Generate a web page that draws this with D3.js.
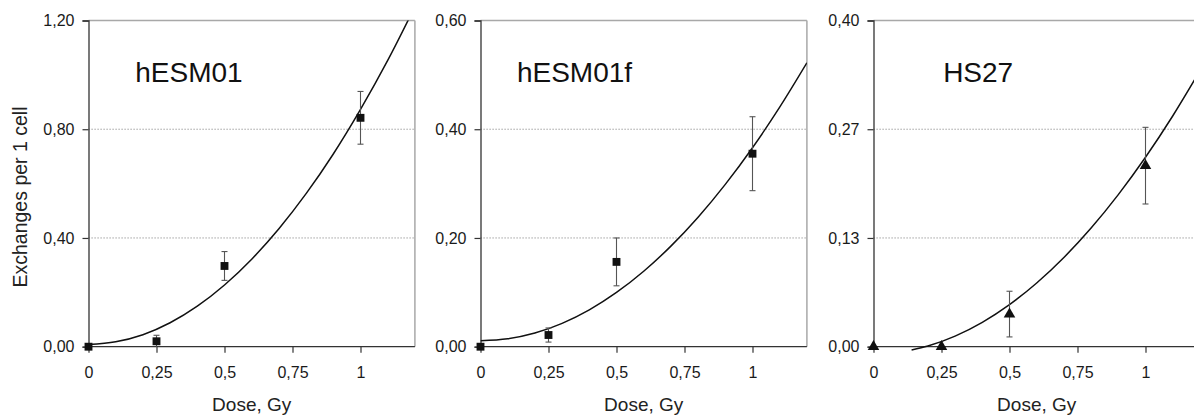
<!DOCTYPE html>
<html>
<head>
<meta charset="utf-8">
<script src="https://cdn.jsdelivr.net/npm/d3@7"></script>
<style>
  html, body { margin: 0; padding: 0; background: #fff; }
  svg { display: block; }
  text { font-family: "Liberation Sans", Arial, Helvetica, sans-serif; }
</style>
</head>
<body>
<script>
// ---------- DATA ----------
const doses = [0, 0.25, 0.5, 1];

const hESM01Values = [0.00, 0.02, 0.297, 0.842];
const hESM01Errors = [0, 0.022, 0.053, 0.097];

const hESM01fValues = [0.00, 0.0215, 0.156, 0.355];
const hESM01fErrors = [0, 0.013, 0.044, 0.068];

const HS27Values = [0.00, 0.00, 0.040, 0.222];
const HS27Errors = [0, 0, 0.028, 0.047];

// fitted curves
const fitDoses = [0, 0.1, 0.2, 0.3, 0.4, 0.5, 0.6, 0.7, 0.8, 0.9, 1.0, 1.1, 1.2];
const hESM01Fit = [0.008, 0.018, 0.044, 0.088, 0.149, 0.227, 0.322, 0.434, 0.563, 0.709, 0.873, 1.053, 1.251];
const hESM01fFit = [0.011, 0.0146, 0.0252, 0.043, 0.0678, 0.0998, 0.1388, 0.185, 0.2382, 0.2986, 0.366, 0.4406, 0.5222];
const HS27FitDoses = [0.14, 0.2, 0.3, 0.4, 0.5, 0.6, 0.7, 0.8, 0.9, 1.0, 1.1, 1.2];
const HS27Fit = [-0.004, 0.0009, 0.013, 0.0299, 0.0516, 0.0781, 0.1094, 0.1455, 0.1865, 0.2323, 0.2829, 0.3383];

// ticks
const xTickValues = [0, 0.25, 0.5, 0.75, 1];
const xTickLabels = ["0", "0,25", "0,5", "0,75", "1"];
const yTicks1 = [0, 0.4, 0.8, 1.2];
const yLabels1 = ["0,00", "0,40", "0,80", "1,20"];
const yTicks2 = [0, 0.2, 0.4, 0.6];
const yLabels2 = ["0,00", "0,20", "0,40", "0,60"];
const yTicks3 = [0, 0.4 / 3, 0.8 / 3, 0.4];
const yLabels3 = ["0,00", "0,13", "0,27", "0,40"];

const titles = ["hESM01", "hESM01f", "HS27"];
const xTitle = "Dose, Gy";
const yTitle = "Exchanges per 1 cell";

// ---------- LAYOUT ----------
const W = 1194, H = 416;
const plotTop = 20.5, plotBottom = 346.7;
const panels = [
  { name: titles[0], left: 88.5, values: hESM01Values, errors: hESM01Errors, fitX: fitDoses, fitY: hESM01Fit,
    yMax: 1.2, yTicks: yTicks1, yLabels: yLabels1, marker: "square", titleDose: 0.172 },
  { name: titles[1], left: 480.5, values: hESM01fValues, errors: hESM01fErrors, fitX: fitDoses, fitY: hESM01fFit,
    yMax: 0.6, yTicks: yTicks2, yLabels: yLabels2, marker: "square", titleDose: 0.134 },
  { name: titles[2], left: 873.5, values: HS27Values, errors: HS27Errors, fitX: HS27FitDoses, fitY: HS27Fit,
    yMax: 0.4, yTicks: yTicks3, yLabels: yLabels3, marker: "triangle", titleDose: 0.256 }
];
const plotW = 326.4;

const svg = d3.select("body").append("svg").attr("width", W).attr("height", H);

panels.forEach((p, i) => {
  const x = d3.scaleLinear().domain([0, 1.2]).range([p.left, p.left + plotW]);
  const y = d3.scaleLinear().domain([0, p.yMax]).range([plotBottom, plotTop]);
  const g = svg.append("g");

  const clipId = "clip" + i;
  svg.append("clipPath").attr("id", clipId)
    .append("rect").attr("x", p.left).attr("y", plotTop).attr("width", plotW).attr("height", plotBottom - plotTop + 8);

  // gridlines (interior ticks)
  g.selectAll(".grid").data(p.yTicks.slice(1, -1)).enter().append("line")
    .attr("x1", p.left).attr("x2", p.left + plotW)
    .attr("y1", d => y(d)).attr("y2", d => y(d))
    .attr("stroke", "#8a8a8a").attr("stroke-width", 1).attr("stroke-dasharray", "1.2,1.8");

  // box top and right
  g.append("line").attr("x1", p.left).attr("x2", p.left + plotW).attr("y1", y(p.yMax)).attr("y2", y(p.yMax))
    .attr("stroke", "#a8a8a8").attr("stroke-width", 1.5);
  g.append("line").attr("x1", p.left + plotW).attr("x2", p.left + plotW).attr("y1", plotTop).attr("y2", plotBottom)
    .attr("stroke", "#a8a8a8").attr("stroke-width", 1.5);

  // axes
  const yAxis = d3.axisLeft(y).tickValues(p.yTicks).tickFormat((d, k) => p.yLabels[k]).tickSizeOuter(0).tickSize(6).tickPadding(8);
  const ya = g.append("g").attr("transform", `translate(${p.left},0)`).call(yAxis);
  const xAxis = d3.axisBottom(x).tickValues(xTickValues).tickFormat((d, k) => xTickLabels[k]).tickSizeOuter(0).tickSize(6).tickPadding(14);
  const xa = g.append("g").attr("transform", `translate(0,${plotBottom})`).call(xAxis);
  [ya, xa].forEach(a => {
    a.select(".domain").attr("stroke", "#333").attr("stroke-width", 1.3);
    a.selectAll(".tick line").attr("stroke", "#333").attr("stroke-width", 1.2);
    a.selectAll(".tick text").attr("fill", "#1a1a1a").style("font-size", "16px")
      .style("font-family", '"Liberation Sans", Arial, sans-serif');
  });
  xa.select(".domain").attr("d", `M${p.left},0H${p.left + plotW}`);

  // fitted curve
  const line = d3.line().x(d => x(d[0])).y(d => y(d[1])).curve(d3.curveMonotoneX);
  g.append("path").attr("clip-path", `url(#${clipId})`)
    .datum(p.fitX.map((d, k) => [d, p.fitY[k]]))
    .attr("d", line).attr("fill", "none").attr("stroke", "#111").attr("stroke-width", 1.5);

  // error bars
  const pts = doses.map((d, k) => ({ d, v: p.values[k], e: p.errors[k] }));
  const eb = g.selectAll(".eb").data(pts.filter(q => q.e > 0)).enter().append("g");
  eb.append("line").attr("x1", q => x(q.d)).attr("x2", q => x(q.d))
    .attr("y1", q => y(q.v + q.e)).attr("y2", q => y(Math.max(0, q.v - q.e)))
    .attr("stroke", "#555").attr("stroke-width", 1.1);
  eb.append("line").attr("x1", q => x(q.d) - 3).attr("x2", q => x(q.d) + 3)
    .attr("y1", q => y(q.v + q.e)).attr("y2", q => y(q.v + q.e))
    .attr("stroke", "#555").attr("stroke-width", 1.1);
  eb.filter(q => q.v - q.e > 0).append("line").attr("x1", q => x(q.d) - 3).attr("x2", q => x(q.d) + 3)
    .attr("y1", q => y(q.v - q.e)).attr("y2", q => y(q.v - q.e))
    .attr("stroke", "#555").attr("stroke-width", 1.1);

  // markers
  const sym = p.marker === "square" ? d3.symbol().type(d3.symbolSquare).size(62)
                                    : d3.symbol().type(d3.symbolTriangle).size(58);
  g.selectAll(".pt").data(pts).enter().append("path")
    .attr("d", sym)
    .attr("transform", q => `translate(${x(q.d)},${y(q.v)})`)
    .attr("fill", "#111");

  // panel title
  g.append("text").attr("x", x(p.titleDose)).attr("y", 81.5)
    .style("font-size", "28px").attr("fill", "#111").text(p.name);

  // x axis title
  g.append("text").attr("x", x(0.6)).attr("y", 411)
    .attr("text-anchor", "middle").style("font-size", "19px").attr("fill", "#222").text(xTitle);
});

// y axis title
svg.append("text").attr("transform", `translate(27,197) rotate(-90)`)
  .attr("text-anchor", "middle").style("font-size", "19.5px").attr("fill", "#222").text(yTitle);
</script>
</body>
</html>
